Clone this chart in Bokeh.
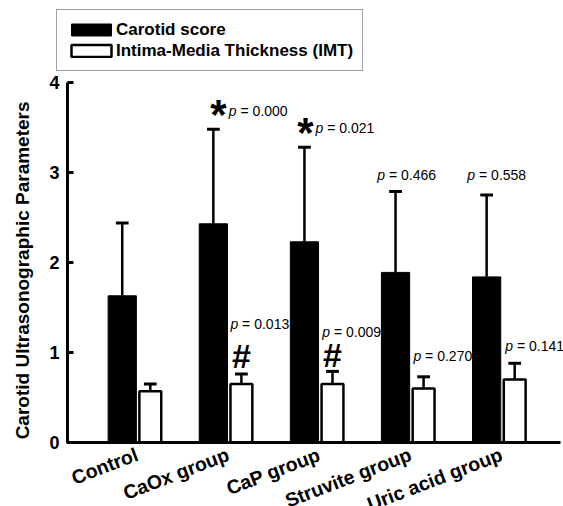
import math
from bokeh.plotting import figure
from bokeh.models import Range1d, FixedTicker, Label, Legend, LegendItem, LinearAxis
from bokeh.embed import file_html
from bokeh.resources import INLINE

# ---------------- data ----------------
groups = ["Control", "CaOx group", "CaP group", "Struvite group", "Uric acid group"]
score_mean = [1.63, 2.43, 2.23, 1.89, 1.84]
score_sd = [0.81, 1.05, 1.05, 0.90, 0.91]
imt_mean = [0.57, 0.65, 0.65, 0.60, 0.70]
imt_sd = [0.08, 0.11, 0.14, 0.13, 0.18]
score_p = [None, "0.000", "0.021", "0.466", "0.558"]
imt_p = [None, "0.013", "0.009", "0.270", "0.141"]
score_star = [False, True, True, False, False]
imt_hash = [False, True, True, False, False]
y_ticks = [0, 1, 2, 3, 4]
y_min, y_max = 0, 4

# ---------------- styles ----------------
FONT = "Liberation Sans"
W, H = 563, 506
PX_X, X0_PX = 91.1, 136.5      # px per category, px of first category
PX_Y, Y0_PX = 90.0, 442.0      # px per unit, px of y = 0
AXIS_LEFT_PX, AXIS_RIGHT_PX = 65.5, 560.0
BLACK_OFF, WHITE_OFF = -0.162, 0.146
BLACK_W, WHITE_W = 0.31, 0.24
CAP_W = 0.14
score_p_dx = [0, 15.5, 11, -18.3, -19.3]
score_p_dy = [0, 18.8, 18.9, 16.8, 19.9]
imt_p_dx = [0, -11, -10.3, -10.2, -9.5]
imt_p_dy = [0, 50.3, 39.9, 21.3, 17.8]
star_dx = [0, 5, 1, 0, 0]
star_dy = [0, 15, 15, 0, 0]
hash_dy = [0, 18, 16, 0, 0]

def px_to_x(px):
    return (px - X0_PX) / PX_X

n = len(groups)
xb = [i + BLACK_OFF for i in range(n)]
xw = [i + WHITE_OFF for i in range(n)]
score_top = [m + s for m, s in zip(score_mean, score_sd)]
imt_top = [m + s for m, s in zip(imt_mean, imt_sd)]

p = figure(width=W, height=H, title=None,
           x_range=Range1d(px_to_x(0), px_to_x(W)),
           y_range=Range1d(-(H - Y0_PX) / PX_Y, Y0_PX / PX_Y),
           x_axis_location=None, y_axis_location=None,
           output_backend="svg", toolbar_location=None, min_border=0)
p.xgrid.visible = False
p.ygrid.visible = False
p.outline_line_color = None
p.background_fill_color = "white"
p.border_fill_color = "white"

# x axis at y = 0
xa = LinearAxis(fixed_location=y_min, bounds=(px_to_x(AXIS_LEFT_PX), px_to_x(AXIS_RIGHT_PX)))
xa.ticker = FixedTicker(ticks=list(range(n)), minor_ticks=[])
xa.major_label_overrides = {i: g for i, g in enumerate(groups)}
xa.major_label_orientation = math.radians(21)
xa.major_label_text_font = FONT
xa.major_label_text_font_size = "19.5px"
xa.major_label_text_font_style = "bold"
xa.major_label_text_color = "black"
xa.major_label_standoff = 11
xa.axis_line_width = 3
xa.major_tick_in = 0
xa.major_tick_out = 0
xa.minor_tick_in = 0
xa.minor_tick_out = 0
p.add_layout(xa, "below")

# y axis
ya = LinearAxis(fixed_location=px_to_x(67), bounds=(y_min, y_max))
ya.ticker = FixedTicker(ticks=y_ticks, minor_ticks=[])
ya.axis_line_width = 3
ya.major_tick_in = 6
ya.major_tick_out = 0
ya.major_tick_line_width = 3
ya.minor_tick_in = 0
ya.minor_tick_out = 0
ya.major_label_text_font = FONT
ya.major_label_text_font_size = "18px"
ya.major_label_text_font_style = "bold"
ya.major_label_text_color = "black"
ya.major_label_standoff = 8
ya.axis_label = "Carotid Ultrasonographic Parameters\u00a0\u00a0\u00a0"
ya.axis_label_text_font = FONT
ya.axis_label_text_font_size = "19px"
ya.axis_label_text_font_style = "bold"
ya.axis_label_text_color = "black"
ya.axis_label_standoff = 13
p.add_layout(ya, "left")

# whiskers
p.segment(x0=xb, y0=score_mean, x1=xb, y1=score_top, line_color="black", line_width=2.5)
p.segment(x0=[x - CAP_W / 2 for x in xb], y0=score_top, x1=[x + CAP_W / 2 for x in xb], y1=score_top,
          line_color="black", line_width=3)
p.segment(x0=xw, y0=imt_mean, x1=xw, y1=imt_top, line_color="black", line_width=2.5)
p.segment(x0=[x - CAP_W / 2 for x in xw], y0=imt_top, x1=[x + CAP_W / 2 for x in xw], y1=imt_top,
          line_color="black", line_width=3)

# bars
rb = p.vbar(x=xb, top=score_mean, bottom=0, width=BLACK_W, fill_color="black", line_color="black", line_width=1)
rw = p.vbar(x=xw, top=imt_mean, bottom=0, width=WHITE_W, fill_color="white", line_color="black", line_width=2.5)

def p_label(x, y, pv, dx, dy):
    p.add_layout(Label(x=x, y=y, text="p", x_offset=dx, y_offset=dy, text_align="left",
                       text_baseline="middle", text_font=FONT, text_font_size="14px",
                       text_font_style="italic", text_color="black"))
    p.add_layout(Label(x=x, y=y, text="= " + pv, x_offset=dx + 11.7, y_offset=dy, text_align="left",
                       text_baseline="middle", text_font=FONT, text_font_size="14px",
                       text_font_style="normal", text_color="black"))

for i in range(n):
    if score_p[i] is not None:
        p_label(xb[i], score_top[i], score_p[i], score_p_dx[i], score_p_dy[i])
    if imt_p[i] is not None:
        p_label(xw[i], imt_top[i], imt_p[i], imt_p_dx[i], imt_p_dy[i])
    if score_star[i]:
        p.add_layout(Label(x=xb[i], y=score_top[i], text="*", x_offset=star_dx[i], y_offset=star_dy[i],
                           text_align="center", text_baseline="middle", text_font=FONT,
                           text_font_size="42px", text_font_style="bold", text_color="black"))
    if imt_hash[i]:
        p.add_layout(Label(x=xw[i], y=imt_top[i], text="#", x_offset=0, y_offset=hash_dy[i],
                           text_align="center", text_baseline="middle", text_font=FONT,
                           text_font_size="34px", text_font_style="bold", text_color="black"))

legend = Legend(items=[LegendItem(label="Carotid score", renderers=[rb]),
                       LegendItem(label="Intima-Media Thickness (IMT)", renderers=[rw])],
                location=(56, H - 71), orientation="vertical")
legend.label_text_font = FONT
legend.label_text_font_size = "17px"
legend.label_text_font_style = "bold"
legend.label_text_color = "black"
legend.glyph_width = 50
legend.glyph_height = 15
legend.label_height = 21
legend.label_standoff = 0
legend.padding = 9
legend.spacing = 0
legend.border_line_color = "#444444"
legend.border_line_width = 1
legend.background_fill_color = "white"
legend.background_fill_alpha = 1
p.add_layout(legend)

open("out.html", "w").write(file_html(p, INLINE))
